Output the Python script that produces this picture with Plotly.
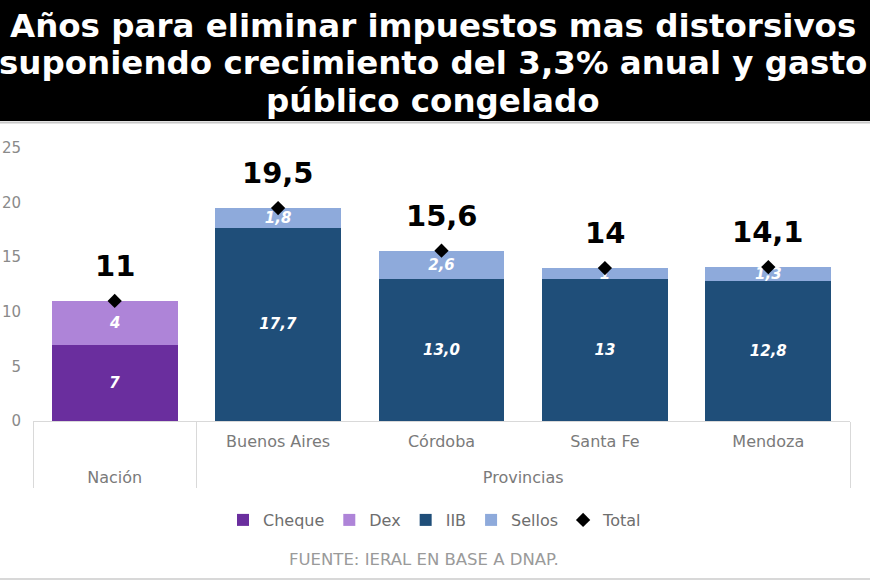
import plotly.graph_objects as go

# ---- data ----
groups = ["Nación", "Provincias", "Provincias", "Provincias", "Provincias"]
regions = [" ", "Buenos Aires", "Córdoba", "Santa Fe", "Mendoza"]
cheque = [7, None, None, None, None]
dex = [4, None, None, None, None]
iib = [None, 17.7, 13.0, 13, 12.8]
sellos = [None, 1.8, 2.6, 1, 1.3]
total = [11, 19.5, 15.6, 14, 14.1]
cheque_lbl = ["7", "", "", "", ""]
dex_lbl = ["4", "", "", "", ""]
iib_lbl = ["", "17,7", "13,0", "13", "12,8"]
sellos_lbl = ["", "1,8", "2,6", "1", "1,3"]
total_lbl = ["11", "19,5", "15,6", "14", "14,1"]
y_ticks = [0, 5, 10, 15, 20, 25]

W, H = 870, 580
ML, MR, MT, MB = 33, 20, 148, 159
PW, PH = W - ML - MR, H - MT - MB


def px_x(p):
    return (p - ML) / PW


def px_y(p):
    return (H - MB - p) / PH


# outer level label gets an empty first line to push it further below the axis
x = [["<br>" + g for g in groups], regions]
inner_font = dict(family="DejaVu Sans", size=15, color="white", weight="bold", style="italic")

fig = go.Figure()


def add_bar(name, vals, lbls, color):
    fig.add_trace(go.Bar(
        x=x, y=vals, name=name, marker=dict(color=color, line=dict(width=0)),
        text=lbls, textposition="inside", insidetextanchor="middle",
        textangle=0, constraintext="none", textfont=inner_font,
        hoverinfo="skip",
    ))


add_bar("Cheque", cheque, cheque_lbl, "#6a2e9e")
add_bar("Dex", dex, dex_lbl, "#ae84d8")
add_bar("IIB", iib, iib_lbl, "#1f4e79")
add_bar("Sellos", sellos, sellos_lbl, "#8eaadb")

fig.add_trace(go.Scatter(
    x=x, y=total, name="Total", mode="markers",
    marker=dict(symbol="diamond", size=11, color="black"),
    hoverinfo="skip",
))

annotations = []
for i, (t, lbl) in enumerate(zip(total, total_lbl)):
    annotations.append(dict(
        x=i, y=t, xref="x", yref="y", text=lbl, showarrow=False,
        yshift=35, yanchor="middle",
        font=dict(family="DejaVu Sans", size=29, color="black", weight="bold"),
    ))

title_lines = [
    ("Años para eliminar impuestos mas distorsivos", 26),
    ("suponiendo crecimiento del 3,3% anual y gasto", 63),
    ("público congelado", 101),
]
for txt, cy in title_lines:
    annotations.append(dict(
        x=px_x(433), y=px_y(cy), xref="paper", yref="paper", text=txt,
        showarrow=False, xanchor="center", yanchor="middle",
        font=dict(family="DejaVu Sans", size=32.5, color="white", weight="bold"),
    ))

annotations.append(dict(
    x=px_x(424), y=px_y(559), xref="paper", yref="paper",
    text="FUENTE: IERAL EN BASE A DNAP.", showarrow=False,
    xanchor="center", yanchor="middle",
    font=dict(family="DejaVu Sans", size=16.5, color="#9a9a9a"),
))

shapes = [
    dict(type="rect", xref="paper", yref="paper", x0=px_x(-5), x1=px_x(W + 5),
         y0=px_y(121), y1=px_y(-5), fillcolor="black", line=dict(width=0), layer="below"),
    dict(type="line", xref="paper", yref="paper", x0=px_x(0), x1=px_x(W),
         y0=px_y(122.5), y1=px_y(122.5), line=dict(color="#c8c8c8", width=2)),
    dict(type="line", xref="paper", yref="paper", x0=px_x(0), x1=px_x(W),
         y0=px_y(579), y1=px_y(579), line=dict(color="#d8d8d8", width=2)),
]

fig.update_layout(
    width=W, height=H,
    margin=dict(l=ML, r=MR, t=MT, b=MB, pad=0, autoexpand=False),
    paper_bgcolor="white", plot_bgcolor="white",
    barmode="stack", bargap=0.23,
    showlegend=True,
    legend=dict(orientation="h", x=px_x(435), y=px_y(520), xanchor="center", yanchor="middle",
                font=dict(family="DejaVu Sans", size=16, color="#6e6e6e"),
                itemwidth=30, traceorder="normal", bgcolor="rgba(0,0,0,0)"),
    annotations=annotations,
    shapes=shapes,
    font=dict(family="DejaVu Sans"),
)

fig.update_yaxes(range=[0, 25], tickvals=y_ticks, showgrid=False, zeroline=False,
                 showline=False, ticks="", ticklabelstandoff=11, automargin=False,
                 tickfont=dict(family="DejaVu Sans", size=15, color="#8a8a8a"))
fig.update_xaxes(type="multicategory", showline=True, linecolor="#d9d9d9", linewidth=1,
                 showdividers=True, dividercolor="#d9d9d9", dividerwidth=1,
                 ticks="", showgrid=False, automargin=False, ticklabelstandoff=6,
                 tickfont=dict(family="DejaVu Sans", size=16, color="#7a7a7a"))

fig.write_html("out.html")
